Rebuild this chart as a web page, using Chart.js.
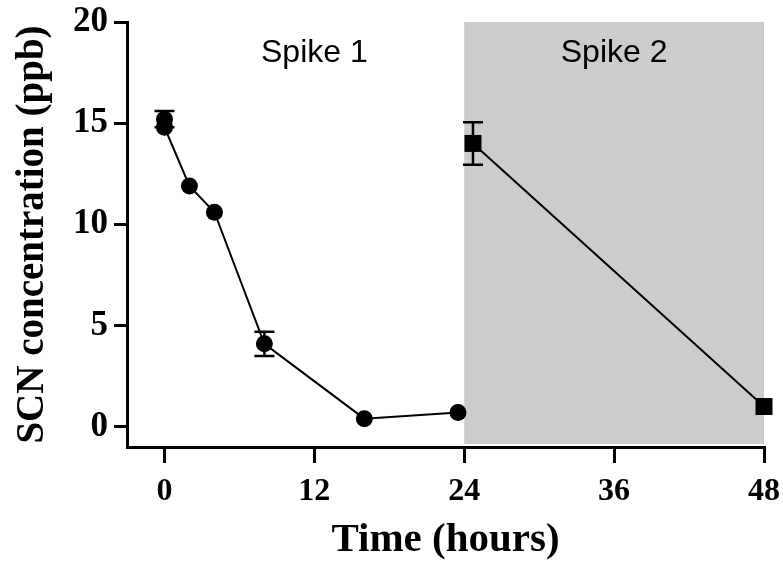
<!DOCTYPE html>
<html>
<head>
<meta charset="utf-8">
<script src="https://cdn.jsdelivr.net/npm/chart.js@4/dist/chart.umd.min.js"></script>
<style>
  html, body { margin: 0; padding: 0; background: #fff; }
  #wrap { width: 783px; height: 565px; }
</style>
</head>
<body>
<div id="wrap"><canvas id="scn-chart"></canvas></div>
<script>
// data
var spike1Hours = [0, 0, 2, 4, 8, 16, 23.5];
var spike1Conc  = [15.2, 14.8, 11.9, 10.6, 4.1, 0.4, 0.7];
var spike1Err   = [0.4, 0, 0, 0, 0.6, 0, 0];

var spike2Hours = [24.7, 48];
var spike2Conc  = [14.0, 1.0];
var spike2Err   = [1.05, 0];

var xTicks = [0, 12, 24, 36, 48];
var yTicks = [0, 5, 10, 15, 20];

var shadeRange   = [24, 48];
var regionLabels = ["Spike 1", "Spike 2"];
var regionLabelX = [12, 36];

function toPoints(xs, ys) {
    return xs.map(function(x, i) { return { x: x, y: ys[i] }; });
}

// grey band behind the second spike
var shadePlugin = {
    id: 'shade',
    beforeDraw: function(chart) {
        var xs = chart.scales.x, ys = chart.scales.y, ctx = chart.ctx;
        var x0 = xs.getPixelForValue(shadeRange[0]);
        var x1 = xs.getPixelForValue(shadeRange[1]);
        var top = ys.getPixelForValue(20);
        ctx.save();
        ctx.fillStyle = '#cccccc';
        ctx.fillRect(x0, top, x1 - x0, chart.chartArea.bottom - 3 - top);
        ctx.restore();
    }
};

// error bars + region labels
var errorBarPlugin = {
    id: 'errorBars',
    beforeDatasetsDraw: function(chart) {
        var xs = chart.scales.x, ys = chart.scales.y, ctx = chart.ctx;
        var sets = [[spike1Hours, spike1Conc, spike1Err], [spike2Hours, spike2Conc, spike2Err]];
        ctx.save();
        ctx.strokeStyle = '#000';
        ctx.lineWidth = 2.5;
        sets.forEach(function(s) {
            s[0].forEach(function(h, i) {
                var e = s[2][i];
                if (!e) return;
                var px = xs.getPixelForValue(h);
                var pTop = ys.getPixelForValue(s[1][i] + e);
                var pBot = ys.getPixelForValue(s[1][i] - e);
                ctx.beginPath();
                ctx.moveTo(px, pTop); ctx.lineTo(px, pBot);
                ctx.moveTo(px - 10, pTop); ctx.lineTo(px + 10, pTop);
                ctx.moveTo(px - 10, pBot); ctx.lineTo(px + 10, pBot);
                ctx.stroke();
            });
        });
        ctx.fillStyle = '#000';
        ctx.font = '32px "Liberation Sans", Arial, sans-serif';
        ctx.textAlign = 'center';
        ctx.textBaseline = 'alphabetic';
        regionLabels.forEach(function(t, i) {
            ctx.fillText(t, xs.getPixelForValue(regionLabelX[i]), ys.getPixelForValue(18));
        });
        ctx.restore();
    }
};

var serif = '"Liberation Serif", "Times New Roman", serif';

var ctx = document.getElementById('scn-chart').getContext('2d');
var chart = new Chart(ctx, {
    type: 'scatter',
    data: {
        datasets: [{
            label: 'Spike 1',
            data: toPoints(spike1Hours, spike1Conc),
            showLine: true,
            borderColor: '#000',
            borderWidth: 2,
            backgroundColor: '#000',
            pointStyle: 'circle',
            pointRadius: 8.5,
            pointBorderWidth: 0,
            clip: false
        }, {
            label: 'Spike 2',
            data: toPoints(spike2Hours, spike2Conc),
            showLine: true,
            borderColor: '#000',
            borderWidth: 2,
            backgroundColor: '#000',
            pointStyle: 'rect',
            pointRadius: 12,
            pointBorderWidth: 0,
            clip: false
        }]
    },
    options: {
        responsive: true,
        maintainAspectRatio: false,
        animation: false,
        layout: { padding: { top: 22, right: 19, left: 0, bottom: 0 } },
        plugins: {
            legend: { display: false },
            tooltip: { enabled: false }
        },
        scales: {
            x: {
                type: 'linear',
                min: -3,
                max: 48,
                afterBuildTicks: function(scale) {
                    scale.ticks = xTicks.map(function(v) { return { value: v }; });
                },
                afterFit: function(scale) {
                    scale.height = 118;
                    scale.paddingLeft = 0;
                    scale.paddingRight = 0;
                },
                grid: { drawOnChartArea: false, drawTicks: true, tickLength: 16, tickColor: '#000', lineWidth: 3 },
                border: { display: true, color: '#000', width: 3 },
                ticks: {
                    color: '#000',
                    padding: 10,
                    maxRotation: 0,
                    font: { family: serif, size: 32, weight: 'bold' }
                },
                title: {
                    display: true,
                    text: 'Time (hours)',
                    color: '#000',
                    padding: { top: 0, bottom: 0 },
                    font: { family: serif, size: 41, weight: 'bold' }
                }
            },
            y: {
                type: 'linear',
                min: -1,
                max: 20,
                afterBuildTicks: function(scale) {
                    scale.ticks = yTicks.map(function(v) { return { value: v }; });
                },
                afterFit: function(scale) {
                    scale.width = 127;
                    scale.paddingTop = 0;
                    scale.paddingBottom = 0;
                },
                grid: { drawOnChartArea: false, drawTicks: true, tickLength: 13, tickColor: '#000', lineWidth: 3 },
                border: { display: true, color: '#000', width: 3 },
                ticks: {
                    color: '#000',
                    padding: 6,
                    font: { family: serif, size: 35, weight: 'bold' }
                },
                title: {
                    display: true,
                    text: 'SCN concentration (ppb)',
                    color: '#000',
                    padding: { top: 10, bottom: 0 },
                    font: { family: serif, size: 39, weight: 'bold' }
                }
            }
        }
    },
    plugins: [shadePlugin, errorBarPlugin]
});
</script>
</body>
</html>
